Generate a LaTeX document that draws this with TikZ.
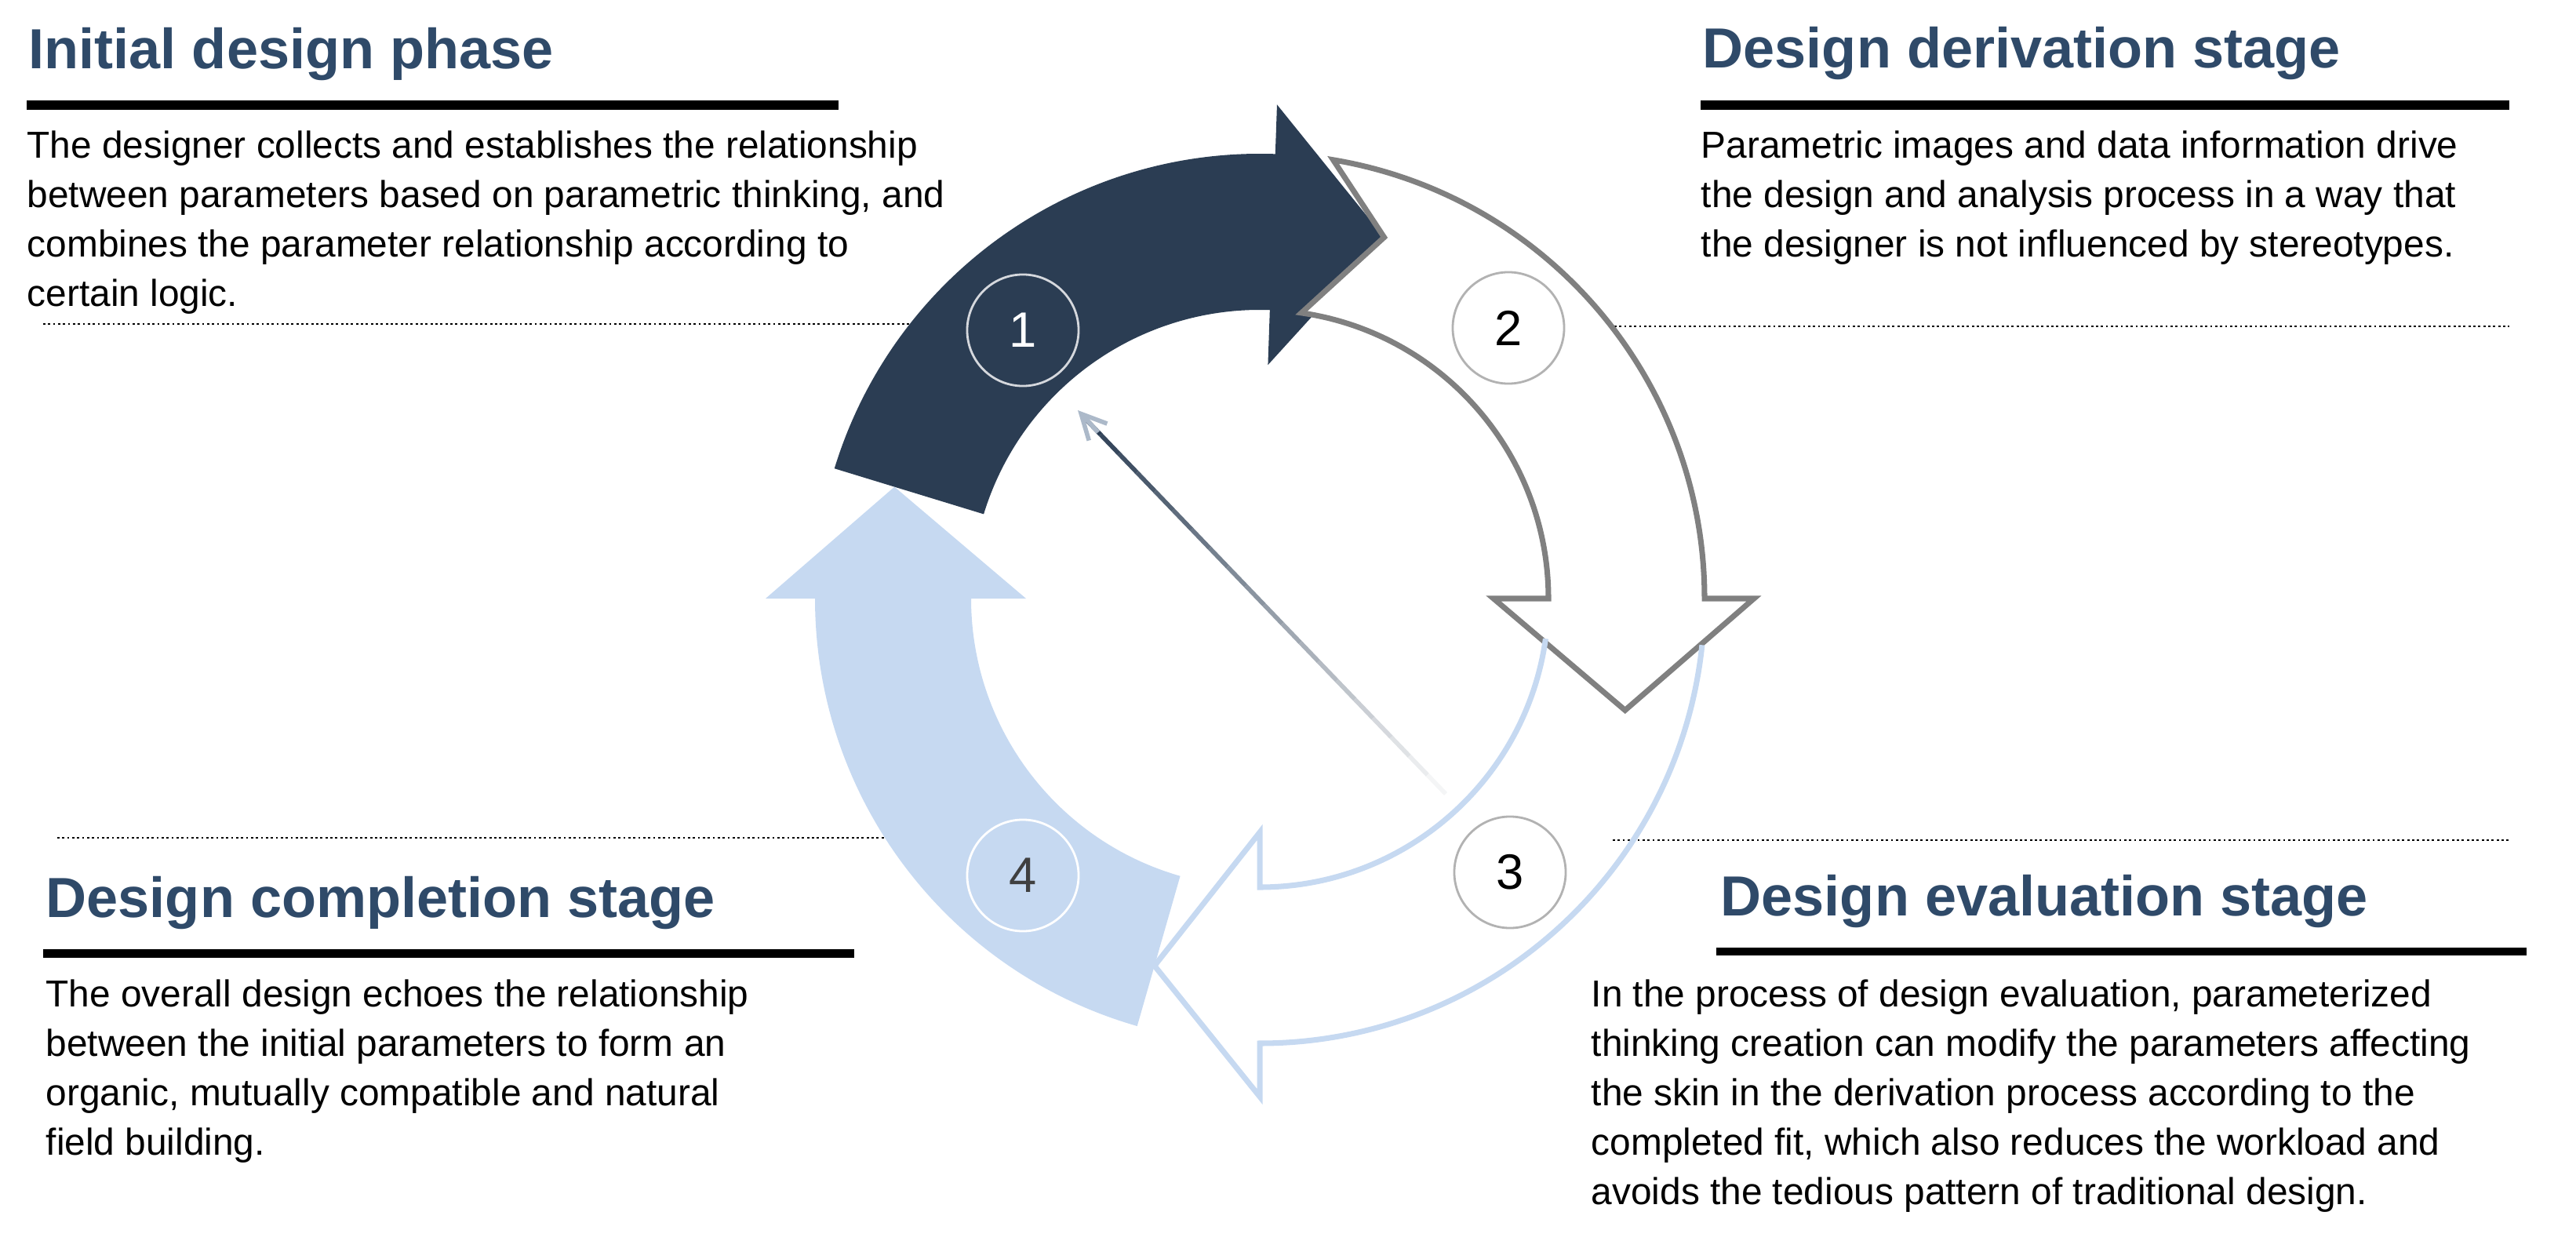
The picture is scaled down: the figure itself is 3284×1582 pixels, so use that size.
\documentclass[tikz,border=0pt]{standalone}
\usepackage{fontspec}
\setmainfont{Liberation Sans}
\usetikzlibrary{arrows.meta,calc}
\definecolor{darkb}{HTML}{2B3D53}
\definecolor{lightb}{HTML}{C6D9F1}
\definecolor{titleb}{HTML}{2F4A69}
\definecolor{ringg}{HTML}{808080}
\newlength{\pxu}
\setlength{\pxu}{0.2845pt}
\tikzset{
  ttl/.style={anchor=base west,inner sep=0pt,font=\bfseries\fontsize{20.5}{24}\selectfont,text=titleb},
  body/.style={anchor=north west,inner sep=0pt,align=left,font=\fontsize{13.6}{17.9}\selectfont},
  bar/.style={fill=black,draw=none},
  dots/.style={densely dotted,line width=0.8pt,black},
  num/.style={circle,minimum size=142\pxu,inner sep=0pt,font=\fontsize{18}{20}\selectfont,line width=0.8pt}
}
\begin{document}
\begin{tikzpicture}[x=0.01cm,y=-0.01cm]
\useasboundingbox (0,0) rectangle (3284,1582);
% dotted lines
\draw[dots] (55,413) -- (1214,413);
\draw[dots] (2039,416) -- (3199,416);
\draw[dots] (73,1068) -- (1214,1068);
\draw[dots] (2056,1071) -- (3199,1071);
% ring
\begin{scope}[shift={(1606,763)},yscale=-1]
 % arrow 1 (dark)
 \fill[darkb] (163:567) arc[start angle=163,end angle=88,radius=567] -- (88:630) -- (71:487) -- (88:298) -- (88:368) arc[start angle=88,end angle=163,radius=368] -- cycle;
 % arrow 2 (gray outline)
 \draw[ringg,fill=white,line width=2pt,line join=miter] (80.5:567) arc[start angle=80.5,end angle=0,radius=567] -- (0:630) -- (-17:487) -- (0:298) -- (0:368) arc[start angle=0,end angle=81.7,radius=368] -- (71:487) -- cycle;
 % arrow 4 (light fill)
 \fill[lightb] (-106:567) arc[start angle=-106,end angle=-180,radius=567] -- (180:630) -- (163:487) -- (180:298) -- (180:368) arc[start angle=180,end angle=254,radius=368] -- cycle;
 % arrow 3 (light outline)
 \fill[white] (-90:630) -- (-106:487) -- (-90:298) -- cycle;
 \fill[white] (-90:567) arc[start angle=-90,end angle=-100,radius=567] -- (-106:487) -- (-100:368) arc[start angle=-100,end angle=-90,radius=368] -- cycle;
 \draw[lightb,line width=2pt,line join=miter] (-6:567) arc[start angle=-6,end angle=-90,radius=567] -- (-90:635) -- (-106:487) -- (-90:298) -- (-90:368) arc[start angle=-90,end angle=-8,radius=368];
\end{scope}
% diagonal arrow with fading
\foreach \i in {0,...,19}{
  \pgfmathsetmacro{\pct}{100-\i*5}
  \draw[line width=1.6pt,color=darkb!\pct!white] ($(1380,530)!{\i/20}!(1843,1012)$) -- ($(1380,530)!{(\i+1)/20}!(1843,1012)$);
}
\coordinate (dtail) at (1400,551);
\coordinate (dtip) at (1374,523);
\draw[-{Straight Barb[length=9pt,width=9pt]},line width=1.6pt,color=lightb!60!darkb!70!white] (dtail) -- (dtip);
% numbered circles
\node[num,draw=white!80!darkb,text=white] (c1) at (1304,421) {1};
\node[num,draw=gray!60,fill=white,text=black] (c2) at (1923,418) {2};
\node[num,draw=gray!60,fill=white,text=black] (c3) at (1925,1112) {3};
\node[num,draw=white,text=black!75] (c4) at (1304,1116) {4};
% top-left
\node[ttl] (t1) at (36,88) {Initial design phase};
\fill[bar] (34,128) rectangle (1069,140);
\node[body] (b1) at (34,166) {The designer collects and establishes the relationship\\between parameters based on parametric thinking, and\\combines the parameter relationship according to\\certain logic.};
% top-right
\node[ttl] (t2) at (2170,87) {Design derivation stage};
\fill[bar] (2168,128) rectangle (3199,140);
\node[body] (b2) at (2168,166) {Parametric images and data information drive\\the design and analysis process in a way that\\the designer is not influenced by stereotypes.};
% bottom-left
\node[ttl] (t4) at (58,1169) {Design completion stage};
\fill[bar] (55,1210) rectangle (1089,1221);
\node[body] (b4) at (58,1248) {The overall design echoes the relationship\\between the initial parameters to form an\\organic, mutually compatible and natural\\field building.};
% bottom-right
\node[ttl] (t3) at (2193,1167) {Design evaluation stage};
\fill[bar] (2188,1208) rectangle (3221,1218);
\node[body] (b3) at (2028,1248) {In the process of design evaluation, parameterized\\thinking creation can modify the parameters affecting\\the skin in the derivation process according to the\\completed fit, which also reduces the workload and\\avoids the tedious pattern of traditional design.};
\end{tikzpicture}
\end{document}
